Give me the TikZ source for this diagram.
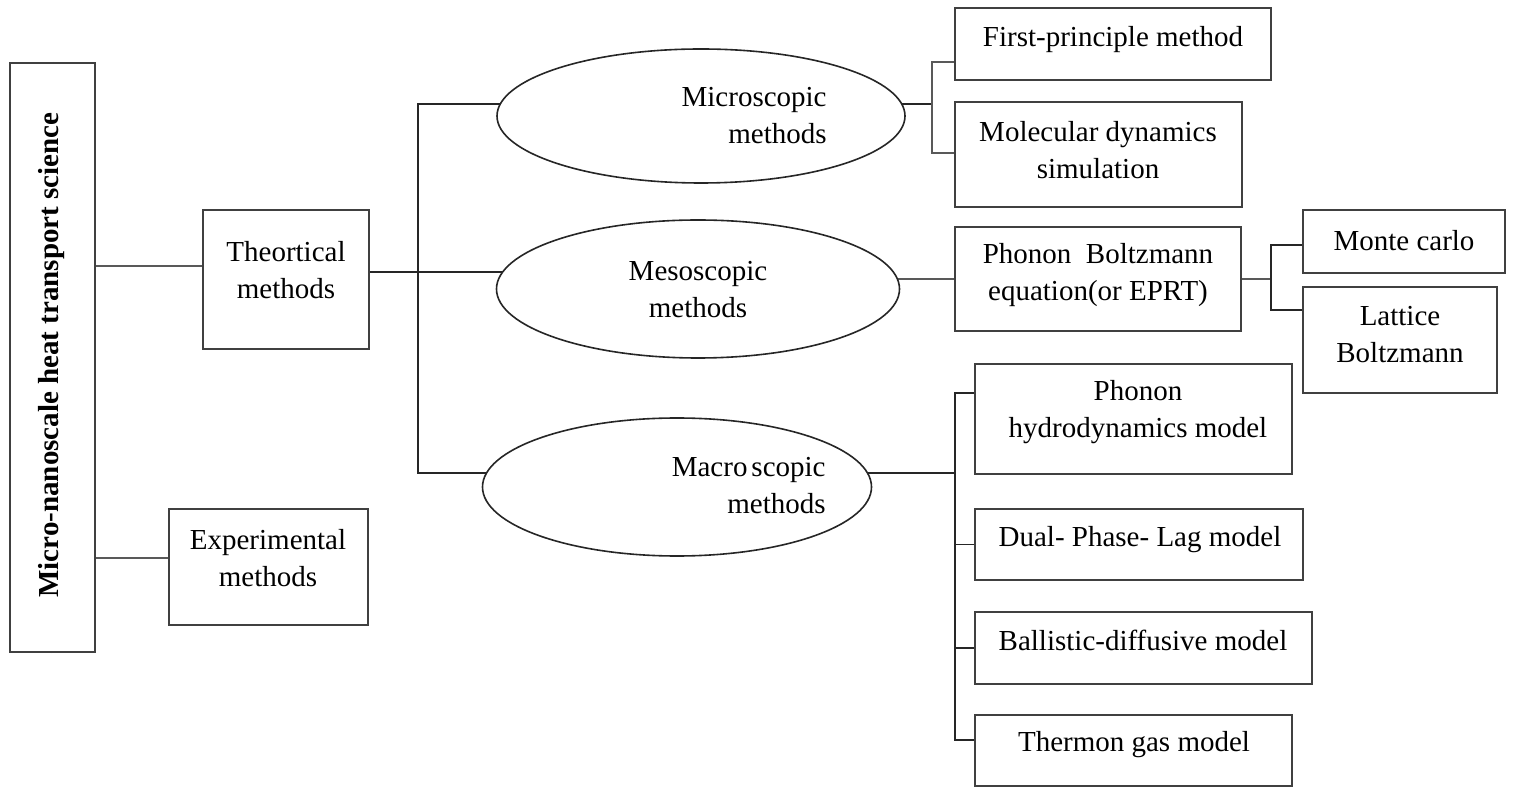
\documentclass[tikz,border=0pt]{standalone}
\usepackage{fontspec}
\setmainfont{Liberation Serif}
\usetikzlibrary{shapes.geometric,fit,backgrounds}
\tikzset{
  box/.style={draw=black!75, line width=1pt, fill=white, inner sep=0pt},
  oval/.style={ellipse, draw=black!85, line width=0.8pt, fill=white, inner sep=0pt},
  txt/.style={align=center, inner sep=0pt, font=\fontsize{14.5}{18.5}\selectfont},
  link/.style={draw=black!85, line width=0.8pt},
  trunk/.style={draw=black!65, line width=1.3pt}
}
% box from two corners, text placed separately
\newcommand{\methodBox}[5]{
  \node[box, fit={#2 #3}] (#1) {};
  \node[txt] (#1-t) at #4 {#5};
}

\begin{document}
\begin{tikzpicture}[x=0.5pt, y=-0.5pt]
  \useasboundingbox (0,0) rectangle (1520,790);

  % root and first level
  \node[box, fit={(10,63) (95,652)}] (main) {};
  \node[txt, rotate=90, font=\fontsize{14.5}{18.5}\selectfont\bfseries] (main-t) at (52,355)
    {Micro-nanoscale heat transport science};
  \methodBox{theo}{(203,210)}{(369,349)}{(286,270)}{Theortical\\methods}
  \methodBox{expe}{(169,509)}{(368,625)}{(268,558)}{Experimental\\methods}

  % scales
  \node[oval, minimum width=204pt, minimum height=67pt] (micro) at (701,116) {};
  \node[txt, align=right, anchor=east] (micro-t) at (827,116) {Microscopic\\methods};
  \node[oval, minimum width=201.5pt, minimum height=69pt] (meso) at (698,289) {};
  \node[txt] (meso-t) at (698,290) {Mesoscopic\\methods};
  \node[oval, minimum width=194.5pt, minimum height=69pt] (macro) at (677,487) {};
  \node[txt, align=right, anchor=east] (macro-t) at (826,486) {Macro\hspace{2pt}scopic\\methods};

  % methods
  \methodBox{first}{(955,8)}{(1271,80)}{(1113,40)}{First-principle method}
  \methodBox{molec}{(955,102)}{(1242,207)}{(1098,150)}{Molecular dynamics\\simulation}
  \methodBox{pb}{(955,227)}{(1241,331)}{(1098,275)}{Phonon~ Boltzmann\\equation(or EPRT)}
  \methodBox{monte}{(1303,210)}{(1505,273)}{(1404,241)}{Monte carlo}
  \methodBox{lattice}{(1303,287)}{(1497,393)}{(1400,335)}{Lattice\\Boltzmann}
  \methodBox{hydro}{(975,364)}{(1292,474)}{(1138,412)}{Phonon\\hydrodynamics model}
  \methodBox{dual}{(975,509)}{(1303,580)}{(1140,540)}{Dual- Phase- Lag model}
  \methodBox{ball}{(975,612)}{(1312,684)}{(1143,640)}{Ballistic-diffusive model}
  \methodBox{therm}{(975,715)}{(1292,786)}{(1134,745)}{Thermon gas model}

  % bus points
  \coordinate (tbus) at (418,272);
  \coordinate (tbusTop) at (418,104);
  \coordinate (tbusBot) at (418,473);
  \coordinate (mbus) at (932,104);
  \coordinate (mbusTop) at (932,62);
  \coordinate (mbusBot) at (932,153);
  \coordinate (pbusTop) at (1271,245);
  \coordinate (pbusBot) at (1271,310);
  \coordinate (abus) at (955,473);
  \coordinate (abusTop) at (955,393);
  \coordinate (abusBot) at (955,740);

  \begin{scope}[on background layer]
    \draw[trunk] (main) |- ([yshift=6.75pt]theo.center);
    \draw[trunk] (main) |- ([yshift=4.5pt]expe.center);
    \draw[link] (theo |- tbus) -- (tbus -| meso);
    \draw[link] (tbusTop -| micro) -- (tbusTop) -- (tbusBot) -- (tbusBot -| macro);
    \draw[link] (mbus -| micro) -- (mbus);
    \draw[trunk] (mbusTop -| first) -- (mbusTop) -- (mbusBot) -- (mbusBot -| molec);
    \draw[trunk] (pb -| meso) -- (pb -| pbusTop);
    \draw[link] (pbusTop -| monte) -- (pbusTop) -- (pbusBot) -- (pbusBot -| lattice);
    \draw[link] (abus -| macro) -- (abus);
    \draw[link] (abusTop -| hydro) -- (abusTop) -- (abusBot) -- (abusBot -| therm);
    \draw[link] (abusTop |- dual) -- (dual);
    \draw[link] (abusTop |- ball) -- (ball);
  \end{scope}
\end{tikzpicture}
\end{document}
